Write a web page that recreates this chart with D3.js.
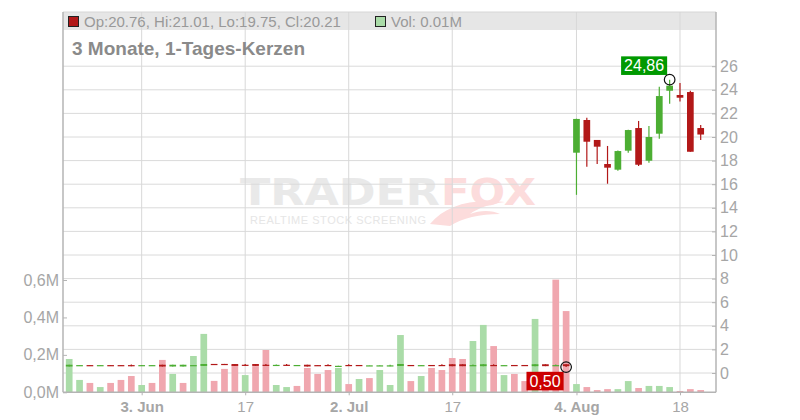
<!DOCTYPE html>
<html><head><meta charset="utf-8">
<script src="https://cdn.jsdelivr.net/npm/d3@7"></script>
<style>body{margin:0;background:#fff} svg{display:block;font-family:"Liberation Sans",Arial,sans-serif}</style>
</head><body><svg id="c" width="800" height="420"></svg>
<script>
const dates = ["2025-05-22","2025-05-23","2025-05-27","2025-05-28","2025-05-29","2025-05-30",
"2025-06-02","2025-06-03","2025-06-04","2025-06-05","2025-06-06","2025-06-09","2025-06-10","2025-06-11","2025-06-12","2025-06-13",
"2025-06-16","2025-06-17","2025-06-18","2025-06-20","2025-06-23","2025-06-24","2025-06-25","2025-06-26","2025-06-27","2025-06-30",
"2025-07-01","2025-07-02","2025-07-03","2025-07-07","2025-07-08","2025-07-09","2025-07-10","2025-07-11","2025-07-14","2025-07-15",
"2025-07-16","2025-07-17","2025-07-18","2025-07-21","2025-07-22","2025-07-23","2025-07-24","2025-07-25","2025-07-28","2025-07-29",
"2025-07-30","2025-07-31","2025-08-01","2025-08-04","2025-08-05","2025-08-06","2025-08-07","2025-08-08","2025-08-11","2025-08-12",
"2025-08-13","2025-08-14","2025-08-15","2025-08-18","2025-08-19","2025-08-20"];
const open  = [0.55,0.64,0.67,0.64,0.67,0.67,0.67,0.64,0.64,0.70,0.55,0.55,0.64,0.60,0.77,0.77,
0.76,0.70,0.76,0.70,0.66,0.70,0.66,0.70,0.67,0.68,0.58,0.68,0.68,0.62,0.62,0.62,0.60,0.68,0.64,0.68,
0.68,0.74,0.74,0.64,0.58,0.68,0.64,0.68,0.68,0.58,0.74,0.64,0.74,
18.67,21.44,19.75,17.71,17.23,18.84,20.76,17.99,20.28,23.92,23.56,23.81,20.76];
const high  = [0.70,0.67,0.67,0.67,0.67,0.67,0.72,0.67,0.67,0.70,0.70,0.70,0.67,0.76,0.77,0.77,
0.76,0.76,0.76,0.76,0.72,0.76,0.68,0.70,0.67,0.74,0.61,0.74,0.68,0.65,0.65,0.70,0.76,0.68,0.67,0.68,
0.74,0.74,0.74,0.72,0.74,0.74,0.67,0.68,0.68,0.74,0.74,0.72,0.74,
21.55,21.64,19.75,19.24,18.85,20.62,21.36,20.93,24.26,24.86,24.58,23.92,21.01];
const low   = [0.55,0.64,0.64,0.64,0.64,0.64,0.58,0.64,0.64,0.55,0.55,0.55,0.64,0.60,0.74,0.74,
0.60,0.62,0.60,0.61,0.62,0.61,0.66,0.55,0.64,0.59,0.58,0.59,0.65,0.62,0.62,0.57,0.60,0.65,0.64,0.65,
0.59,0.58,0.58,0.59,0.58,0.59,0.64,0.65,0.65,0.58,0.58,0.59,0.50,
15.10,17.48,17.71,16.04,17.14,18.67,17.54,17.82,19.86,22.82,23.00,18.75,19.75];
const close = [0.70,0.67,0.64,0.67,0.64,0.64,0.64,0.67,0.67,0.55,0.70,0.70,0.67,0.76,0.74,0.74,
0.60,0.67,0.60,0.67,0.69,0.67,0.68,0.55,0.64,0.65,0.61,0.65,0.65,0.65,0.65,0.65,0.76,0.65,0.67,0.65,
0.65,0.58,0.58,0.67,0.74,0.65,0.67,0.65,0.65,0.74,0.58,0.67,0.58,
21.53,19.60,19.18,17.40,18.81,20.59,17.65,20.00,23.47,24.35,23.33,18.75,20.21];
const volume = [0.178,0.066,0.050,0.028,0.050,0.066,0.087,0.039,0.050,0.173,0.098,0.050,0.194,0.312,0.061,0.125,
0.146,0.092,0.140,0.226,0.039,0.028,0.034,0.130,0.098,0.119,0.130,0.044,0.071,0.076,0.119,0.039,0.306,0.060,0.087,0.130,
0.119,0.183,0.178,0.274,0.360,0.247,0.092,0.098,0.060,0.392,0.070,0.602,0.434,
0.044,0.028,0.012,0.017,0.017,0.060,0.023,0.034,0.034,0.028,0.007,0.017,0.012];
const volUp = [1,1,0,1,0,0,0,1,0,0,1,0,1,1,0,0,
0,1,0,0,1,1,0,0,0,0,1,0,1,0,1,1,1,0,1,0,
0,0,0,1,1,0,1,0,0,1,0,0,0,
1,0,0,0,1,1,0,1,1,1,0,0,0];
const priceTicks = [0,2,4,6,8,10,12,14,16,18,20,22,24,26];
const volTicks = [0,0.2,0.4,0.6];
const volTickLabels = ["0,0M","0,2M","0,4M","0,6M"];
const dateTicks = ["2025-06-03","2025-06-17","2025-07-02","2025-07-17","2025-08-04","2025-08-18"];
const dateTickLabels = ["3. Jun","17","2. Jul","17","4. Aug","18"];
const dateTickBold = [true,false,true,false,true,false];
const titleText = "3 Monate, 1-Tages-Kerzen";

const svg = d3.select("#c");
const L = 63, R = 716, T = 12, B = 392.3;
const x = d3.scalePoint().domain(dates).range([69.2, 700.7]);
const yP = d3.scaleLinear().domain([0, 26]).range([373, 66.2]);
const yV = d3.scaleLinear().domain([0, 0.6]).range([B, 280]);
const bw = 6.7;
const C = {gUp:"#4cae33", gDn:"#b21818", vUp:"#aadca8", vDn:"#f0a7af"};

// header band
svg.append("rect").attr("x", L).attr("y", T).attr("width", R - L).attr("height", 18).attr("fill", "#e6e6e6");

// watermark
const wm = svg.append("g");
wm.append("text").attr("x", 240).attr("y", 204.5).attr("textLength", 200).attr("lengthAdjust", "spacingAndGlyphs")
  .attr("font-family", "DejaVu Sans").attr("font-weight", "bold").attr("font-size", 37).attr("fill", "#e9e9e9").text("TRADER");
wm.append("text").attr("x", 441).attr("y", 204.5).attr("textLength", 95).attr("lengthAdjust", "spacingAndGlyphs")
  .attr("font-family", "DejaVu Sans").attr("font-weight", "bold").attr("font-size", 37).attr("fill", "#fcdcdc").text("FOX");
wm.append("text").attr("x", 250).attr("y", 224).attr("textLength", 176).attr("lengthAdjust", "spacing")
  .attr("font-size", 11).attr("fill", "#e6e6e6").text("REALTIME STOCK SCREENING");
wm.append("path").attr("d", "M430,224 C445,206 470,198 505,202 C490,204 478,208 470,214 C480,210 492,210 500,214 C480,214 462,218 450,226 Z")
  .attr("fill", "#fcdcdc");

// grid
svg.append("g").selectAll("line").data(priceTicks).join("line")
  .attr("x1", L).attr("x2", R).attr("y1", d => yP(d)).attr("y2", d => yP(d))
  .attr("stroke", "#dadada").attr("stroke-width", 1);
svg.append("g").selectAll("line").data(dateTicks).join("line")
  .attr("x1", d => x(d)).attr("x2", d => x(d)).attr("y1", T).attr("y2", B)
  .attr("stroke", "#d8d8d8").attr("stroke-width", 1);

// frame
svg.append("line").attr("x1", L).attr("x2", R).attr("y1", T).attr("y2", T).attr("stroke", "#d6d6d6");

// volume bars
svg.append("g").selectAll("rect").data(dates).join("rect")
  .attr("x", d => x(d) - bw / 2).attr("width", bw)
  .attr("y", (d, i) => yV(volume[i])).attr("height", (d, i) => B - yV(volume[i]))
  .attr("fill", (d, i) => volUp[i] ? C.vUp : C.vDn);

// candles
const cg = svg.append("g");
cg.selectAll("line").data(dates).join("line")
  .attr("x1", d => x(d)).attr("x2", d => x(d))
  .attr("y1", (d, i) => yP(high[i])).attr("y2", (d, i) => yP(low[i]))
  .attr("stroke", (d, i) => close[i] >= open[i] ? C.gUp : C.gDn).attr("stroke-width", 1.2);
cg.selectAll("rect").data(dates).join("rect")
  .attr("x", d => x(d) - bw / 2).attr("width", bw)
  .attr("y", (d, i) => Math.min(yP(open[i]), yP(close[i])))
  .attr("height", (d, i) => Math.max(1.2, Math.abs(yP(open[i]) - yP(close[i]))))
  .attr("fill", (d, i) => close[i] >= open[i] ? C.gUp : C.gDn);

// axes
const fmtV = d => volTickLabels[volTicks.indexOf(d)];
const axL = svg.append("g").attr("transform", `translate(${L},0)`)
  .call(d3.axisLeft(yV).tickValues(volTicks).tickFormat(fmtV).tickSize(-4).tickPadding(4));
const axR = svg.append("g").attr("transform", `translate(${R},0)`)
  .call(d3.axisRight(yP).tickValues(priceTicks).tickFormat(d3.format("d")).tickSize(-4).tickPadding(4));
const axB = svg.append("g").attr("transform", `translate(0,${B})`)
  .call(d3.axisBottom(x).tickValues(dateTicks).tickFormat(d => dateTickLabels[dateTicks.indexOf(d)]).tickSize(3).tickPadding(6.5));
[axL, axR, axB].forEach(a => {
  a.select(".domain").attr("stroke", "#b4b4b4").attr("stroke-width", 1.5);
  a.selectAll(".tick line").attr("stroke", "#b4b4b4");
  a.selectAll("text").attr("fill", "#a6a6a6").attr("font-family", "Liberation Sans, Arial, sans-serif");
});
axL.select(".domain").attr("d", `M0,${T}V${B}`);
axR.select(".domain").attr("d", `M0,${T}V${B}`);
axB.select(".domain").attr("d", `M${L},0H${R}`);
axL.selectAll("text").attr("font-size", 16);
axR.selectAll("text").attr("font-size", 16);
axB.selectAll("text").attr("font-size", 15).attr("font-weight", (d) => dateTickBold[dateTicks.indexOf(d)] ? "bold" : "normal");

// header legend
const n = dates.length - 1;
svg.append("rect").attr("x", 68.5).attr("y", 16.5).attr("width", 10).attr("height", 10)
  .attr("fill", close[n] >= open[n] ? C.gUp : C.gDn).attr("stroke", "#222");
svg.append("text").attr("x", 84).attr("y", 26.5).attr("font-size", 15).attr("fill", "#999")
  .text(`Op:${open[n].toFixed(2)}, Hi:${high[n].toFixed(2)}, Lo:${low[n].toFixed(2)}, Cl:${close[n].toFixed(2)}`);
svg.append("rect").attr("x", 375.5).attr("y", 16.5).attr("width", 10).attr("height", 10)
  .attr("fill", C.vUp).attr("stroke", "#222");
svg.append("text").attr("x", 391).attr("y", 26.5).attr("font-size", 15).attr("fill", "#999")
  .text(`Vol: ${volume[n].toFixed(2)}M`);

// title
svg.append("text").attr("x", 72).attr("y", 54.5).attr("font-size", 19).attr("font-weight", "bold").attr("fill", "#8a8a8a").text(titleText);

// high/low markers
const iH = d3.maxIndex(high), iL = d3.minIndex(low);
const fmtP = v => v.toFixed(2).replace(".", ",");
function marker(i, v, color, above) {
  const cx = x(dates[i]), cy = yP(v);
  const g = svg.append("g");
  const t = g.append("text").attr("font-size", 16).attr("fill", "#fff").text(fmtP(v));
  const w = t.node().getComputedTextLength() + 6, h = 18.6;
  const bx = cx - 2.5 - w, by = above ? cy - 4.7 - h : cy + 4.7;
  g.insert("rect", "text").attr("x", bx).attr("y", by).attr("width", w).attr("height", h).attr("fill", color);
  t.attr("x", bx + 3).attr("y", by + h - 3.5);
  svg.append("circle").attr("cx", cx).attr("cy", cy).attr("r", 5.3).attr("fill", "none").attr("stroke", "#111").attr("stroke-width", 1.2);
}
marker(iH, high[iH], "#009900", true);
marker(iL, low[iL], "#cc0000", false);
</script></body></html>
